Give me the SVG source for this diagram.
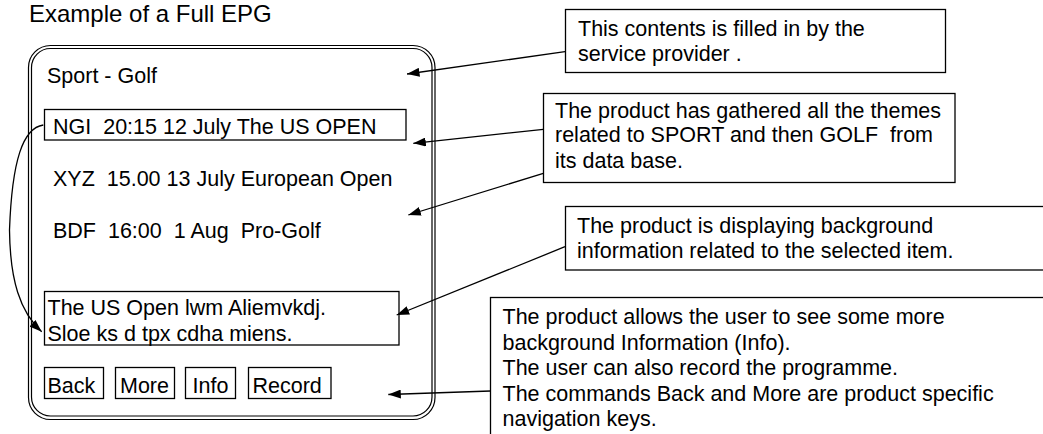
<svg xmlns="http://www.w3.org/2000/svg" width="1043" height="434" viewBox="0 0 1043 434">
  <style>
    text { font-family: "Liberation Sans", Arial, "Helvetica", sans-serif; font-size: 21.5px; fill: #000; }
    .title { font-size: 24px; }
    .box { fill: #fff; stroke: #000; stroke-width: 1.3; }
    .frame { fill: none; stroke: #000; stroke-width: 1.2; }
    .wire { fill: none; stroke: #000; stroke-width: 1.3; marker-end: url(#arrow); }
  </style>
  <defs>
    <marker id="arrow" markerUnits="userSpaceOnUse" markerWidth="13" markerHeight="9" refX="12.5" refY="4.5" orient="auto">
      <path d="M0,0 L12.5,4.5 L0,9 z" fill="#000"/>
    </marker>
  </defs>

  <rect width="1043" height="434" fill="#fff"/>

  <g id="title">
    <text class="title" x="29" y="22">Example of a Full EPG</text>
  </g>

  <!-- screen outline: double rounded border -->
  <g id="epg-frame">
    <rect class="frame" x="28.5" y="45.5" width="406.5" height="374" rx="22"/>
    <rect class="frame" x="31.5" y="48.5" width="400.5" height="367.5" rx="19"/>
  </g>

  <g id="menu-title">
    <text x="47" y="83">Sport - Golf</text>
  </g>

  <g id="item-ngi">
    <rect class="box" x="44.5" y="109.5" width="361.5" height="30.5"/>
    <text x="53" y="134" xml:space="preserve">NGI  20:15 12 July The US OPEN</text>
  </g>

  <g id="item-xyz">
    <text x="53" y="186" xml:space="preserve">XYZ  15.00 13 July European Open</text>
  </g>

  <g id="item-bdf">
    <text x="53" y="237.5" xml:space="preserve">BDF  16:00  1 Aug  Pro-Golf</text>
  </g>

  <g id="info-panel">
    <rect class="box" x="44.5" y="291.5" width="354.5" height="53.5"/>
    <text x="47.5" y="315">The US Open lwm Aliemvkdj.</text>
    <text x="47.5" y="341">Sloe ks d tpx cdha miens.</text>
  </g>

  <g id="btn-back">
    <rect class="box" x="44.5" y="367.5" width="59" height="31"/>
    <text x="47.5" y="392.5">Back</text>
  </g>
  <g id="btn-more">
    <rect class="box" x="115.5" y="367.5" width="59" height="31"/>
    <text x="120" y="392.5">More</text>
  </g>
  <g id="btn-info">
    <rect class="box" x="185.5" y="367.5" width="50" height="31"/>
    <text x="192.5" y="392.5">Info</text>
  </g>
  <g id="btn-record">
    <rect class="box" x="248.5" y="367.5" width="82.5" height="31"/>
    <text x="252.5" y="392.5">Record</text>
  </g>

  <g id="note-provider">
    <rect class="box" x="565.5" y="9.5" width="380" height="63"/>
    <text x="578" y="35.5">This contents is filled in by the</text>
    <text x="578" y="61">service provider .</text>
  </g>

  <g id="note-themes">
    <rect class="box" x="543.5" y="93.5" width="411.5" height="89"/>
    <text x="555" y="117.5">The product has gathered all the themes</text>
    <text x="555" y="142" xml:space="preserve">related to SPORT and then GOLF  from</text>
    <text x="555" y="167.5">its data base.</text>
  </g>

  <g id="note-background">
    <rect class="box" x="565.5" y="206.5" width="500" height="63.5"/>
    <text x="577" y="232.5">The product is displaying background</text>
    <text x="577" y="258">information related to the selected item.</text>
  </g>

  <g id="note-commands">
    <rect class="box" x="490.5" y="297.5" width="580" height="160"/>
    <text x="502.5" y="324">The product allows the user to see some more</text>
    <text x="502.5" y="349.5">background Information (Info).</text>
    <text x="502.5" y="375">The user can also record the programme.</text>
    <text x="502.5" y="400.5">The commands Back and More are product specific</text>
    <text x="502.5" y="426">navigation keys.</text>
  </g>

  <g id="connectors">
    <path class="wire" d="M565,51.7 L407,74"/>
    <path class="wire" d="M543.3,129.3 L413.3,143.3"/>
    <path class="wire" d="M543.3,173.3 L408.3,215"/>
    <path class="wire" d="M565,246.7 L396.7,315"/>
    <path class="wire" d="M490.5,391 L388.3,394.5"/>
    <path class="wire" d="M43.3,125 C23,128 12,160 9.5,230 C10,280 20,312 41.7,331.7"/>
  </g>
</svg>
